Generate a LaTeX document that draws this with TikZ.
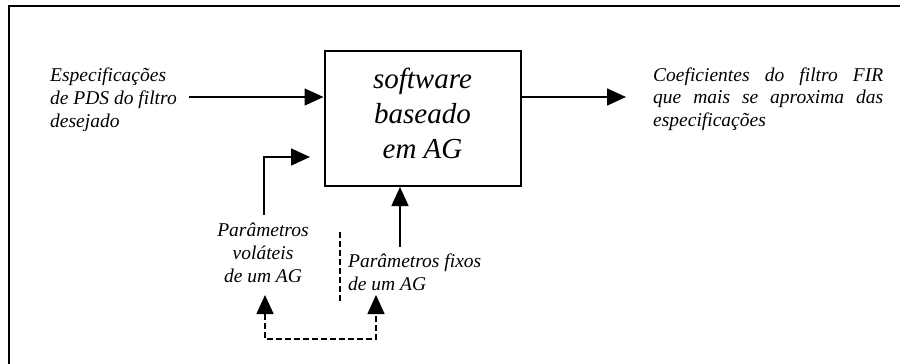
\documentclass[tikz,border=0pt]{standalone}
\usepackage{fontspec}
\setmainfont{Liberation Serif}
\usetikzlibrary{arrows.meta}
\tikzset{
  px/.style={x=1pt,y=-1pt},
  frameline/.style={line width=2.5pt},
  blockbox/.style={draw,line width=2pt,minimum width=196pt,minimum height=135pt,inner sep=0pt},
  arr/.style={line width=1.6pt,-{Triangle[length=19pt,width=17pt]}},
  dasharr/.style={line width=1.6pt,dash pattern=on 6pt off 3pt,{Triangle[length=19pt,width=17pt]}-{Triangle[length=19pt,width=17pt]}},
  dashln/.style={line width=1.6pt,dash pattern=on 6pt off 3pt},
  smalltxt/.style={inner sep=0pt,font=\fontsize{19.5}{22.7}\selectfont\itshape},
  bigtxt/.style={inner sep=0pt,align=center,font=\fontsize{29}{35}\selectfont\itshape},
}
\begin{document}
\begin{tikzpicture}[px]
\useasboundingbox (0,0) rectangle (900,364);
% frame
\draw[frameline] (900,6) -- (9,6) -- (9,364);
% main block
\node[blockbox] (box) at (422.5,118.5) {};
\node[bigtxt,anchor=base] (boxtxt) at (422.5,158) {software\\baseado\\em AG};
% input text
\node[smalltxt,align=left,anchor=base west] (spec) at (50,127) {Especificações\\de PDS do filtro\\desejado};
\coordinate (in1) at (189,97);
\draw[arr] (in1) -- (in1 -| box.west);
% output
\coordinate (out1) at (626,97);
\draw[arr] (out1 -| box.east) -- (out1);
\node[smalltxt,text width=230pt,align=justify,anchor=base west] (coef) at (653,81)
  {Coeficientes do filtro FIR\linebreak que mais se aproxima das\linebreak especificações};
% volatile parameters
\node[smalltxt,align=center,anchor=base] (vol) at (263,282) {Parâmetros\\voláteis\\de um AG};
\coordinate (v0) at (264,215);
\coordinate (v1) at (264,157);
\coordinate (v2) at (310,157);
\draw[arr] (v0) -- (v1) -- (v2);
% fixed parameters
\node[smalltxt,align=left,anchor=base west] (fix) at (348,290) {Parâmetros fixos\\de um AG};
\coordinate (f0) at (400,247);
\draw[arr] (f0) -- (f0 |- box.south);
% dashed separator and link
\coordinate (d0) at (340,232);
\coordinate (d1) at (340,302);
\draw[dashln] (d0) -- (d1);
\coordinate (a1) at (265,295);
\coordinate (a2) at (376,295);
\coordinate (b1) at (265,339);
\coordinate (b2) at (376,339);
\draw[dasharr] (a1) -- (b1) -- (b2) -- (a2);
\end{tikzpicture}
\end{document}
